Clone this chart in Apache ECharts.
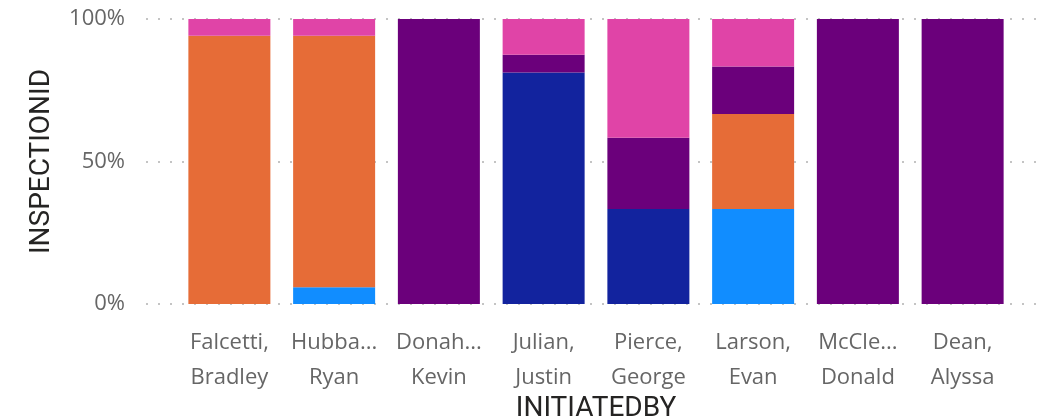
<!DOCTYPE html>
<html>
<head>
<meta charset="utf-8">
<script src="https://cdn.jsdelivr.net/npm/echarts@6/dist/echarts.min.js"></script>
<style>
html,body{margin:0;padding:0;background:#fff;}
#c{width:1045px;height:419px;}
</style>
</head>
<body>
<div id="c"></div>
<script>
// Categories (INITIATEDBY), labels as shown (truncated in the original)
const categories = ["Falcetti,\nBradley","Hubba...\nRyan","Donah...\nKevin","Julian,\nJustin","Pierce,\nGeorge","Larson,\nEvan","McCle...\nDonald","Dean,\nAlyssa"];
// Counts of INSPECTIONID per group (estimated from 100% stacked shares)
const seriesNames = ["Group A","Group B","Group C","Group D","Group E"];
const groupA = [0, 1, 0, 0, 0, 2, 0, 0];
const groupB = [0, 0, 0, 13, 4, 0, 0, 0];
const groupC = [16, 15, 0, 0, 0, 2, 0, 0];
const groupD = [0, 0, 1, 1, 3, 1, 1, 1];
const groupE = [1, 1, 0, 2, 5, 1, 0, 0];
const yTicks = [0, 50, 100];

const colors = ["#118DFF","#12239E","#E66C37","#6B007B","#E044A7"];
const raw = [groupA, groupB, groupC, groupD, groupE];
const totals = categories.map((_, i) => raw.reduce((s, a) => s + a[i], 0));
const shares = raw.map(a => a.map((v, i) => totals[i] ? v / totals[i] * 100 : 0));

const labelFont = "'Open Sans', 'Noto Sans', sans-serif";
const titleFont = "Roboto, 'DejaVu Sans Condensed', sans-serif";

const chart = echarts.init(document.getElementById('c'), null, {renderer: 'canvas'});
chart.setOption({
  animation: false,
  grid: [
    {left: 177, right: 30, top: 19, bottom: 115, containLabel: false, outerBoundsMode: 'none'},
    {left: 146, right: 9, top: 19, bottom: 115, containLabel: false, outerBoundsMode: 'none'}
  ],
  xAxis: [
    {
      type: 'category', gridIndex: 0, data: categories,
      axisLine: {show: false}, axisTick: {show: false},
      axisLabel: {
        interval: 0, margin: 21, color: '#666666', fontSize: 22,
        fontFamily: labelFont, lineHeight: 35
      },
      name: 'INITIATEDBY', nameLocation: 'middle', nameGap: 91, nameMoveOverlap: false,
      nameTextStyle: {color: '#252423', fontSize: 28, fontFamily: titleFont}
    },
    {type: 'value', gridIndex: 1, min: 0, max: 1, show: false}
  ],
  yAxis: [
    {type: 'value', gridIndex: 0, min: 0, max: 100, show: false},
    {
      type: 'value', gridIndex: 1, min: yTicks[0], max: yTicks[yTicks.length - 1], interval: 50,
      axisLine: {show: false}, axisTick: {show: false},
      axisLabel: {
        margin: 21, color: '#666666', fontSize: 22, fontFamily: labelFont,
        formatter: v => v + '%'
      },
      splitLine: {show: true, lineStyle: {color: '#c4c4c4', width: 2, type: [2, 10]}},
      name: 'INSPECTIONID', nameLocation: 'middle', nameGap: 90, nameMoveOverlap: false,
      nameTextStyle: {color: '#252423', fontSize: 28, fontFamily: titleFont}
    }
  ],
  series: shares.map((d, k) => ({
    name: seriesNames[k], type: 'bar', stack: 'total',
    xAxisIndex: 0, yAxisIndex: 0,
    data: d, barWidth: 82, z: 3,
    itemStyle: {color: colors[k]}
  }))
});
</script>
</body>
</html>
